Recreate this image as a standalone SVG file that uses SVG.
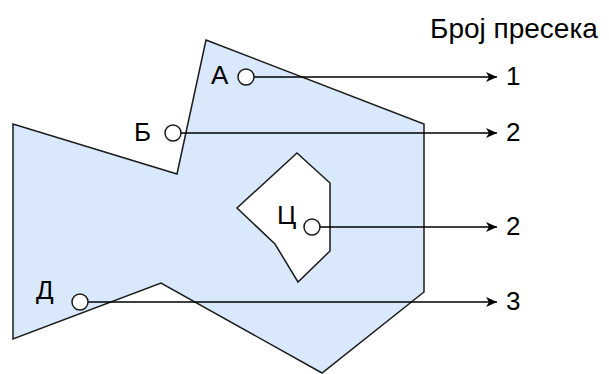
<svg xmlns="http://www.w3.org/2000/svg" width="609" height="374" viewBox="0 0 609 374">
<defs>
<style>
.shape{fill:#dae8fc;stroke:#1a1a1a;stroke-width:1.5;stroke-linejoin:miter}
.hole{fill:#ffffff;stroke:#1a1a1a;stroke-width:1.5}
.pt{fill:#ffffff;stroke:#1a1a1a;stroke-width:1.5}
.edge{stroke:#000;stroke-width:1.5;fill:none}
text{font-family:"Liberation Sans",Arial,sans-serif;font-size:26px;fill:#000}
.title{font-size:28px}
</style>
<marker id="arr" markerWidth="12" markerHeight="10" viewBox="0 0 12 10" refX="11" refY="5" orient="auto" markerUnits="userSpaceOnUse">
<path d="M0,0 L11,5 L0,10 L3,5 Z" fill="#000"/>
</marker>
</defs>
<g id="polygon">
<polygon class="shape" points="206,40 424,124 424,292 322,373 161,283 13,339 13,124 177,174"/>
<polygon class="hole" points="297,153 330,183 330,251 298,282 275,244 237,208"/>
</g>
<g id="title"><text class="title" x="430" y="38">Број пресека</text></g>
<g id="connectors">
<line class="edge" x1="254" y1="77" x2="497" y2="77" marker-end="url(#arr)"/>
<line class="edge" x1="181" y1="133" x2="497" y2="133" marker-end="url(#arr)"/>
<line class="edge" x1="320" y1="227" x2="497" y2="227" marker-end="url(#arr)"/>
<line class="edge" x1="88" y1="302" x2="497" y2="302" marker-end="url(#arr)"/>
</g>
<g id="pointA"><circle class="pt" cx="246" cy="77" r="8"/><text x="211" y="84">А</text></g>
<g id="pointB"><circle class="pt" cx="173" cy="133" r="8"/><text x="134" y="141">Б</text></g>
<g id="pointC"><circle class="pt" cx="312" cy="227" r="8"/><text x="277" y="224">Ц</text></g>
<g id="pointD"><circle class="pt" cx="80" cy="302" r="8"/><text x="36" y="299">Д</text></g>
<g id="counts">
<text x="506" y="85">1</text>
<text x="506" y="141">2</text>
<text x="506" y="235">2</text>
<text x="506" y="310">3</text>
</g>
</svg>
